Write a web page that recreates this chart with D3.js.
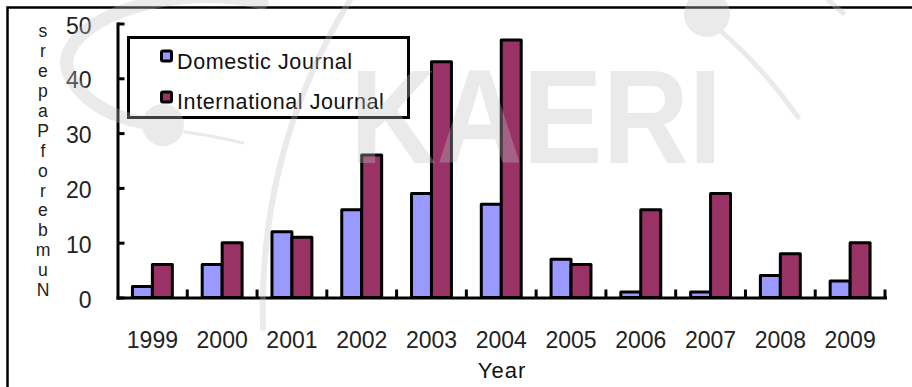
<!DOCTYPE html>
<html>
<head>
<meta charset="utf-8">
<script src="https://cdn.jsdelivr.net/npm/d3@7"></script>
<style>
  html, body { margin: 0; padding: 0; background: #fff; }
  svg { display: block; font-family: "Liberation Sans", Arial, sans-serif; }
</style>
</head>
<body>
<svg id="chart" width="912" height="387"></svg>
<script>
// Papers published per year, by journal type
const years = ["1999", "2000", "2001", "2002", "2003", "2004", "2005", "2006", "2007", "2008", "2009"];
const domestic = [2, 6, 12, 16, 19, 17, 7, 1, 1, 4, 3];
const international = [6, 10, 11, 26, 43, 47, 6, 16, 19, 8, 10];
const seriesNames = ["Domestic Journal", "International Journal"];
const seriesColors = ["#9999FF", "#993366"];
const yTicks = [0, 10, 20, 30, 40, 50];
const yTitle = "Number of Papers";
const xTitle = "Year";
const watermarkText = "KAERI";

const svg = d3.select("#chart");
const textColor = "#222";

// outer frame
svg.append("rect")
  .attr("x", 7.5).attr("y", 7.5)
  .attr("width", 1000).attr("height", 1000)
  .attr("fill", "none").attr("stroke", "#000").attr("stroke-width", 2.5);

// scales
const x0 = d3.scaleBand().domain(years).range([117.5, 885]).padding(0);
const step = x0.step();
const x1 = d3.scaleBand().domain(seriesNames).range([step * 0.214, step * 0.786]).padding(0);
const y = d3.scaleLinear().domain([0, 50]).range([297.5, 23.5]);

const rows = years.map((yr, i) => ({ year: yr, values: [domestic[i], international[i]] }));

// bars
const groups = svg.append("g").selectAll("g")
  .data(rows).join("g")
  .attr("transform", d => `translate(${x0(d.year)},0)`);

groups.selectAll("rect")
  .data(d => d.values.map((v, k) => ({ name: seriesNames[k], value: v, color: seriesColors[k] })))
  .join("rect")
  .attr("x", d => x1(d.name))
  .attr("width", x1.bandwidth())
  .attr("y", d => y(d.value))
  .attr("height", d => y(0) - y(d.value))
  .attr("fill", d => d.color)
  .attr("stroke", "#000")
  .attr("stroke-width", 3)
  .attr("stroke-linejoin", "round");

// y axis (ticks pointing inward)
const yAxis = svg.append("g")
  .attr("transform", "translate(117.5,0)")
  .call(d3.axisLeft(y).tickValues(yTicks).tickSize(-7).tickSizeOuter(0).tickPadding(26));
yAxis.select(".domain").attr("stroke", "#000").attr("stroke-width", 3).attr("stroke-linecap", "square");
yAxis.selectAll(".tick line").attr("stroke", "#000").attr("stroke-width", 3);
yAxis.selectAll(".tick text")
  .attr("font-size", 23).attr("fill", textColor)
  .attr("font-family", "Liberation Sans, Arial, sans-serif")
  .attr("dy", "0.42em");

// x axis
const xAxis = svg.append("g")
  .attr("transform", `translate(0,${y(0)})`)
  .call(d3.axisBottom(x0).tickSize(0).tickSizeOuter(0).tickPadding(34));
xAxis.select(".domain").attr("stroke", "#000").attr("stroke-width", 3).attr("stroke-linecap", "square");
xAxis.selectAll(".tick text")
  .attr("font-size", 23).attr("fill", textColor)
  .attr("font-family", "Liberation Sans, Arial, sans-serif");

// category divider ticks on the x axis
svg.append("g").selectAll("line")
  .data(years).join("line")
  .attr("x1", d => x0(d) + step).attr("x2", d => x0(d) + step)
  .attr("y1", y(0)).attr("y2", y(0) - 8)
  .attr("stroke", "#000").attr("stroke-width", 3);

// x title
svg.append("text")
  .attr("x", 502).attr("y", 378)
  .attr("text-anchor", "middle")
  .attr("font-size", 22).attr("letter-spacing", 1)
  .attr("fill", "#111")
  .text(xTitle);

// y title: upright letters stacked bottom to top
const titleChars = yTitle.split("").filter(c => c !== " ");
svg.append("g").selectAll("text")
  .data(titleChars).join("text")
  .attr("x", 43)
  .attr("y", (c, i) => 296 - i * 19.9)
  .attr("text-anchor", "middle")
  .attr("font-size", 17.6)
  .attr("fill", textColor)
  .text(c => c);

// legend
const legend = svg.append("g");
legend.append("rect")
  .attr("x", 128.5).attr("y", 37.5)
  .attr("width", 280).attr("height", 80)
  .attr("fill", "#fff").attr("stroke", "#000").attr("stroke-width", 3);
const legendRows = [
  { name: seriesNames[0], color: seriesColors[0], top: 51, base: 69 },
  { name: seriesNames[1], color: seriesColors[1], top: 92, base: 109 }
];
legend.selectAll("rect.mark")
  .data(legendRows).join("rect")
  .attr("class", "mark")
  .attr("x", 161.5).attr("y", d => d.top)
  .attr("width", 10).attr("height", 10)
  .attr("rx", 1.5)
  .attr("fill", d => d.color).attr("stroke", "#000").attr("stroke-width", 3);
legend.selectAll("text")
  .data(legendRows).join("text")
  .attr("x", 177).attr("y", d => d.base)
  .attr("font-size", 21.5).attr("letter-spacing", 0.6)
  .attr("fill", "#111")
  .text(d => d.name);

// faint institutional watermark laid over the plot
const wm = svg.append("g").attr("opacity", 0.33);
const wmGray = "#c2c2c2";
wm.append("text")
  .attr("x", 350).attr("y", 163)
  .attr("font-size", 133).attr("font-weight", "bold")
  .attr("textLength", 372).attr("lengthAdjust", "spacingAndGlyphs")
  .attr("fill", wmGray)
  .text(watermarkText);
// orbit swooshes and nuclei
wm.append("path")
  .attr("d", "M262,3 C160,-22 40,30 72,80 C92,112 130,122 160,125")
  .attr("fill", "none").attr("stroke", wmGray).attr("stroke-width", 13).attr("stroke-linecap", "round");
wm.append("path")
  .attr("d", "M185,132 Q215,136 243,143")
  .attr("fill", "none").attr("stroke", wmGray).attr("stroke-width", 3).attr("stroke-linecap", "round");
wm.append("circle").attr("cx", 163).attr("cy", 125).attr("r", 21).attr("fill", wmGray);
wm.append("path")
  .attr("d", "M350,0 Q258,150 263,328")
  .attr("fill", "none").attr("stroke", wmGray).attr("stroke-width", 6).attr("stroke-linecap", "round");
wm.append("circle").attr("cx", 707).attr("cy", 14).attr("r", 23).attr("fill", wmGray);
wm.append("path")
  .attr("d", "M722,32 Q765,70 798,117")
  .attr("fill", "none").attr("stroke", wmGray).attr("stroke-width", 5).attr("stroke-linecap", "round");
wm.append("path")
  .attr("d", "M828,0 L843,13")
  .attr("fill", "none").attr("stroke", wmGray).attr("stroke-width", 5).attr("stroke-linecap", "round");
</script>
</body>
</html>
